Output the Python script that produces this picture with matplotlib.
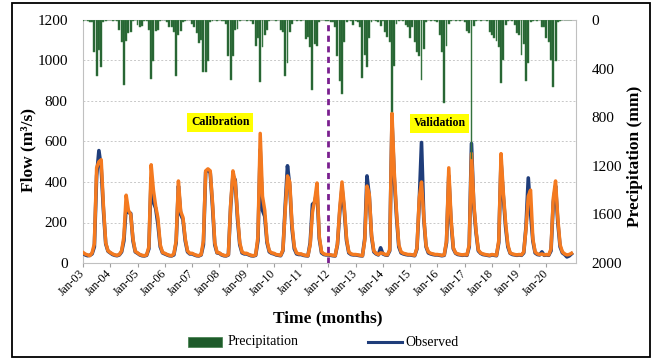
import numpy as np
import matplotlib
matplotlib.use("Agg")
import matplotlib.pyplot as plt
from matplotlib.patches import Rectangle
from matplotlib.lines import Line2D

plt.rcParams['font.family'] = ['Liberation Serif', 'DejaVu Serif']

# ---------------- data (monthly, Jan 2003 - Dec 2020) ----------------
observed = [
    48, 40, 36, 38, 45, 80, 430, 555, 470, 260, 95, 58,      # 2003
    50, 42, 38, 36, 40, 55, 110, 280, 250, 245, 110, 55,     # 2004
    48, 40, 36, 35, 38, 70, 420, 300, 270, 190, 80, 50,      # 2005
    45, 40, 36, 35, 40, 100, 380, 240, 215, 110, 55, 45,     # 2006
    45, 40, 36, 35, 40, 90, 450, 460, 445, 280, 90, 50,      # 2007
    48, 40, 36, 35, 40, 280, 430, 410, 220, 90, 50, 45,      # 2008
    45, 40, 36, 35, 38, 110, 560, 260, 230, 100, 55, 48,     # 2009
    45, 40, 38, 36, 60, 280, 480, 380, 170, 70, 45, 42,      # 2010
    42, 38, 36, 35, 100, 290, 300, 360, 120, 50, 42, 40,     # 2011
    40, 38, 36, 35, 90, 250, 370, 260, 110, 50, 42, 40,      # 2012
    40, 38, 36, 35, 120, 430, 330, 130, 55, 45, 40, 75,      # 2013
    45, 40, 38, 60, 700, 420, 230, 80, 50, 45, 42, 40,       # 2014
    40, 38, 36, 70, 300, 595, 220, 80, 50, 45, 42, 40,       # 2015
    40, 38, 36, 38, 100, 430, 200, 70, 48, 42, 40, 38,       # 2016
    40, 38, 80, 590, 280, 150, 60, 48, 42, 40, 38, 36,       # 2017
    40, 38, 36, 100, 500, 330, 180, 80, 48, 42, 40, 38,      # 2018
    40, 38, 50, 180, 420, 250, 110, 50, 42, 40, 55, 38,      # 2019
    40, 38, 60, 300, 380, 200, 80, 50, 42, 30, 35, 45,       # 2020
]
simulated = [
    52, 44, 40, 36, 50, 95, 470, 500, 510, 280, 100, 60,     # 2003
    52, 45, 40, 38, 42, 60, 130, 335, 260, 240, 120, 58,     # 2004
    50, 42, 38, 36, 40, 80, 485, 360, 280, 220, 90, 52,      # 2005
    48, 42, 38, 36, 45, 110, 405, 255, 225, 120, 60, 48,     # 2006
    48, 42, 38, 36, 42, 110, 455, 465, 455, 300, 100, 52,    # 2007
    50, 42, 38, 36, 42, 290, 455, 400, 240, 100, 55, 48,     # 2008
    48, 42, 38, 36, 40, 130, 640, 330, 260, 110, 60, 50,     # 2009
    48, 42, 40, 38, 65, 260, 430, 400, 190, 80, 50, 45,      # 2010
    45, 40, 38, 36, 90, 250, 310, 395, 130, 55, 45, 42,      # 2011
    42, 40, 38, 36, 95, 270, 400, 280, 120, 55, 45, 42,      # 2012
    42, 40, 38, 36, 110, 380, 340, 140, 60, 48, 42, 50,      # 2013
    48, 42, 40, 65, 740, 450, 250, 90, 55, 48, 45, 42,       # 2014
    42, 40, 38, 75, 320, 400, 230, 85, 55, 48, 45, 42,       # 2015
    42, 40, 38, 40, 110, 470, 220, 75, 50, 45, 42, 40,       # 2016
    42, 40, 90, 540, 300, 160, 65, 50, 45, 42, 40, 38,       # 2017
    42, 40, 38, 110, 540, 350, 200, 90, 50, 45, 42, 40,      # 2018
    42, 40, 55, 170, 330, 360, 120, 55, 45, 42, 45, 40,      # 2019
    42, 40, 70, 320, 405, 220, 90, 55, 45, 40, 42, 48,       # 2020
]
precipitation = [
    5, 0, 10, 15, 20, 260, 460, 250, 390, 20, 5, 0,          # 2003
    0, 5, 0, 10, 80, 180, 535, 175, 110, 100, 10, 0,         # 2004
    40, 60, 50, 10, 5, 80, 485, 340, 90, 85, 10, 0,          # 2005
    0, 20, 60, 60, 95, 460, 125, 90, 15, 5, 0, 0,            # 2006
    30, 60, 110, 190, 165, 430, 425, 340, 20, 5, 0, 10,      # 2007
    0, 5, 10, 30, 300, 495, 300, 80, 75, 10, 0, 0,           # 2008
    5, 0, 10, 30, 210, 150, 508, 220, 120, 80, 10, 0,        # 2009
    0, 10, 0, 80, 100, 465, 355, 95, 30, 0, 10, 0,           # 2010
    5, 0, 160, 140, 220, 575, 200, 210, 20, 0, 0, 10,        # 2011
    10, 15, 20, 60, 300, 500, 605, 180, 20, 0, 5, 40,        # 2012
    10, 15, 60, 480, 290, 385, 150, 20, 0, 5, 20, 50,        # 2013
    10, 100, 140, 180, 755, 380, 30, 10, 0, 5, 40, 60,       # 2014
    150, 60, 180, 260, 300, 494, 240, 15, 0, 5, 0, 10,       # 2015
    20, 120, 260, 680, 210, 30, 10, 0, 5, 0, 10, 0,          # 2016
    20, 90, 110, 1140, 50, 10, 0, 5, 0, 0, 10, 100,          # 2017
    120, 150, 170, 220, 520, 330, 40, 5, 0, 10, 40, 110,     # 2018
    120, 290, 200, 505, 350, 20, 5, 0, 10, 0, 55, 60,        # 2019
    150, 180, 330, 550, 340, 20, 5, 0, 0, 0, 0, 0,           # 2020
]
tick_labels = ["Jan-03", "Jan-04", "Jan-05", "Jan-06", "Jan-07", "Jan-08",
               "Jan-09", "Jan-10", "Jan-11", "Jan-12", "Jan-13", "Jan-14",
               "Jan-15", "Jan-16", "Jan-17", "Jan-18", "Jan-19", "Jan-20"]
split_label = "Jan-12"

# ---------------- figure ----------------
W, H = 657, 360
fig = plt.figure(figsize=(W / 100, H / 100), dpi=100)
L, R, T, B = 83, 576, 20, 263
ax = fig.add_axes([L / W, 1 - B / H, (R - L) / W, (B - T) / H])
ax2 = ax.twinx()

months = np.arange(len(observed))
tick_pos = np.arange(len(tick_labels)) * 12

ax.plot(months, observed, color='#1F3D7A', lw=2.6, zorder=3, solid_joinstyle='round')
ax.plot(months, simulated, color='#F47A20', lw=2.5, zorder=4, solid_joinstyle='round')
split_x = tick_pos[tick_labels.index(split_label)]
ax.axvline(split_x, color='#7A1F8F', lw=2.0, ls=(0, (2.2, 1.6)), zorder=5)

ax.set_xlim(0, 217)
ax.set_ylim(0, 1200)
ax.set_yticks(np.arange(0, 1201, 200))
ax.set_xticks(tick_pos)
ax.set_xticklabels(tick_labels, rotation=45, ha='right', va='center',
                   rotation_mode='anchor', fontsize=8.5)
ax.tick_params(axis='x', length=3, color='#A0A0A0', pad=3)
ax.tick_params(axis='y', length=0, pad=11, labelsize=11)
ax.yaxis.grid(True, color='#C8C8C8', ls=(0, (2, 2)), lw=0.7)
ax.set_axisbelow(True)
for s in ax.spines.values():
    s.set_color('#C0C0C0')
    s.set_linewidth(0.8)

ax2.bar(months, precipitation, width=0.85, color='#1E5B2A',
        edgecolor='#4A8A54', linewidth=0.35, zorder=2)
ax2.set_ylim(2000, 0)
ax2.set_yticks(np.arange(0, 2001, 400))
ax2.tick_params(axis='y', length=0, pad=11, labelsize=11)
for s in ax2.spines.values():
    s.set_visible(False)

ax.text(60.4, 694, "Calibration", fontsize=8.5, fontweight='bold', ha='center', va='center',
        bbox=dict(boxstyle='square,pad=0.3', fc='#FFFF00', ec='none'), zorder=6)
ax.text(157, 691, "Validation", fontsize=8.5, fontweight='bold', ha='center', va='center',
        bbox=dict(boxstyle='square,pad=0.3', fc='#FFFF00', ec='none'), zorder=6)

# axis titles
fig.text(28 / W, 1 - 150 / H, "Flow (m³/s)", rotation=90, fontsize=12.5,
         fontweight='bold', ha='center', va='center')
fig.text(635 / W, 1 - 156 / H, "Precipitation (mm)", rotation=90, fontsize=12.5,
         fontweight='bold', ha='center', va='center')
fig.text(328 / W, 1 - 318 / H, "Time (months)", fontsize=12.5,
         fontweight='bold', ha='center', va='center')

# legend (manual)
ly = 1 - 342 / H
fig.patches.append(Rectangle((188 / W, 1 - 347 / H), 34 / W, 10 / H,
                             transform=fig.transFigure, fc='#1E5B2A', ec='#3E7E48', lw=0.5))
fig.text(228 / W, ly, "Precipitation", fontsize=10, ha='left', va='center')
fig.lines.append(Line2D([368 / W, 402 / W], [ly, ly], transform=fig.transFigure,
                        color='#1F3D7A', lw=2.2))
fig.text(405 / W, ly, "Observed", fontsize=10, ha='left', va='center')

# outer frame
fig.patches.append(Rectangle((12 / W, 3 / H), (650 - 12) / W, (357 - 3) / H,
                             transform=fig.transFigure, fill=False, ec='black', lw=1.3))

fig.savefig("out.png", dpi=100)
